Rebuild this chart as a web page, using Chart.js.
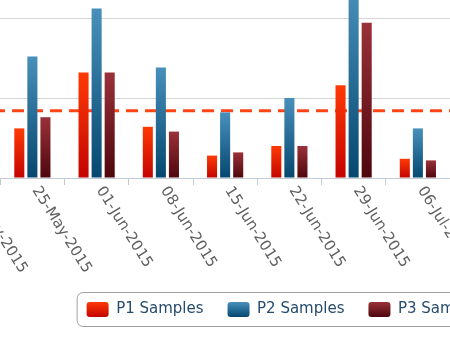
<!DOCTYPE html>
<html>
<head>
<meta charset="utf-8">
<title>Weekly samples</title>
<script src="https://cdn.jsdelivr.net/npm/chart.js@4.4.0/dist/chart.umd.min.js"></script>
<style>
  html, body { margin: 0; padding: 0; background: #fff; }
  #frame { position: relative; width: 450px; height: 338px; overflow: hidden; }
  #holder { position: absolute; left: -64px; top: -70px; }
</style>
</head>
<body>
<div id="frame"><div id="holder"><canvas id="samples" width="700" height="397"></canvas></div></div>
<script>
var weeks = ["18-May-2015", "25-May-2015", "01-Jun-2015", "08-Jun-2015",
             "15-Jun-2015", "22-Jun-2015", "29-Jun-2015", "06-Jul-2015"];
var p1Samples = [null, 31, 66, 32, 14, 20, 58, 12];
var p2Samples = [null, 76, 106, 69, 41, 50, 120, 31];
var p3Samples = [null, 38, 66, 29, 16, 20, 97, 11];
var targetSamples = 42;
var yTicks = [0, 50, 100, 150];

// top / bottom colour of each series
var p1Colors = ["#ff3a06", "#c30400"];
var p2Colors = ["#4890bb", "#05476f"];
var p3Colors = ["#9a3139", "#4e060d"];

function barGradient(colors) {
  return function(c) {
    var chart = c.chart;
    if (!chart.chartArea || c.raw == null) return colors[1];
    var y = chart.scales.y;
    var g = chart.ctx.createLinearGradient(0, y.getPixelForValue(c.raw), 0, y.getPixelForValue(0));
    g.addColorStop(0, colors[0]);
    g.addColorStop(1, colors[1]);
    return g;
  };
}

// dashed target line, under the bars
var targetLine = {
  id: 'targetLine',
  beforeDatasetsDraw: function(chart) {
    var ctx = chart.ctx, area = chart.chartArea;
    var y = chart.scales.y.getPixelForValue(targetSamples);
    ctx.save();
    ctx.strokeStyle = '#ff4515';
    ctx.lineWidth = 3;
    ctx.setLineDash([12, 7]);
    ctx.beginPath();
    ctx.moveTo(area.left, y);
    ctx.lineTo(area.right, y);
    ctx.stroke();
    ctx.restore();
  }
};

// x labels turned clockwise, starting at the tick
var slantedLabels = {
  id: 'slantedLabels',
  afterDraw: function(chart) {
    var ctx = chart.ctx, x = chart.scales.x;
    ctx.save();
    ctx.font = '15px "DejaVu Sans"';
    ctx.fillStyle = '#606060';
    ctx.textAlign = 'left';
    ctx.textBaseline = 'middle';
    x.getLabels().forEach(function(label, i) {
      ctx.save();
      ctx.translate(x.getPixelForValue(i) + 3, x.top + 10);
      ctx.rotate(58 * Math.PI / 180);
      ctx.fillText(label, 0, 0);
      ctx.restore();
    });
    ctx.restore();
  }
};

// gradient swatches + rounded frame round the legend
var legendFrame = {
  id: 'legendFrame',
  beforeDraw: function(chart) {
    var lg = chart.legend, sets = [p1Colors, p2Colors, p3Colors];
    lg.legendItems.forEach(function(item, i) {
      var hb = lg.legendHitBoxes[i];
      var g = chart.ctx.createLinearGradient(0, hb.top, 0, hb.top + hb.height);
      g.addColorStop(0, sets[i][0]);
      g.addColorStop(1, sets[i][1]);
      item.fillStyle = g;
      item.lineWidth = 0;
    });
  },
  afterDraw: function(chart) {
    var hbs = chart.legend.legendHitBoxes, ctx = chart.ctx;
    var last = hbs[hbs.length - 1];
    var l = hbs[0].left - 9.5, t = hbs[0].top - 9.5;
    var r = last.left + last.width + 9.5, b = hbs[0].top + hbs[0].height + 9.5;
    var rad = 6;
    ctx.save();
    ctx.strokeStyle = '#a0a0a0';
    ctx.lineWidth = 1;
    ctx.beginPath();
    ctx.moveTo(l + rad, t);
    ctx.arcTo(r, t, r, b, rad);
    ctx.arcTo(r, b, l, b, rad);
    ctx.arcTo(l, b, l, t, rad);
    ctx.arcTo(l, t, r, t, rad);
    ctx.closePath();
    ctx.stroke();
    ctx.restore();
  }
};

var ctx = document.getElementById('samples');

var barGraph = new Chart(ctx, {
  type: 'bar',
  data: {
    labels: weeks,
    datasets: [
      { label: 'P1 Samples', data: p1Samples, backgroundColor: barGradient(p1Colors) },
      { label: 'P2 Samples', data: p2Samples, backgroundColor: barGradient(p2Colors) },
      { label: 'P3 Samples', data: p3Samples, backgroundColor: barGradient(p3Colors) }
    ]
  },
  options: {
    responsive: false,
    animation: false,
    devicePixelRatio: 1,
    layout: { padding: { top: 8, left: 0, right: 0, bottom: 0 } },
    datasets: {
      bar: { barPercentage: 0.77, categoryPercentage: 0.61, borderWidth: 0 }
    },
    scales: {
      x: {
        ticks: { display: false },
        grid: { offset: true, drawOnChartArea: false, tickLength: 7, color: '#c4cad3' },
        border: { color: '#c4cad3' },
        afterFit: function(scale) { scale.height = 100; }
      },
      y: {
        position: 'right',
        min: yTicks[0],
        max: yTicks[yTicks.length - 1],
        ticks: { display: false, stepSize: yTicks[1] - yTicks[0] },
        grid: { color: '#d6d6d6', drawTicks: false },
        border: { display: false },
        afterFit: function(scale) { scale.width = 186; }
      }
    },
    plugins: {
      tooltip: { enabled: false },
      legend: {
        position: 'bottom',
        labels: {
          boxWidth: 22,
          boxHeight: 15,
          padding: 24,
          useBorderRadius: true,
          borderRadius: 3,
          color: '#274b6d',
          font: { family: 'DejaVu Sans', size: 15 }
        }
      }
    }
  },
  plugins: [targetLine, slantedLabels, legendFrame]
});
</script>
</body>
</html>
